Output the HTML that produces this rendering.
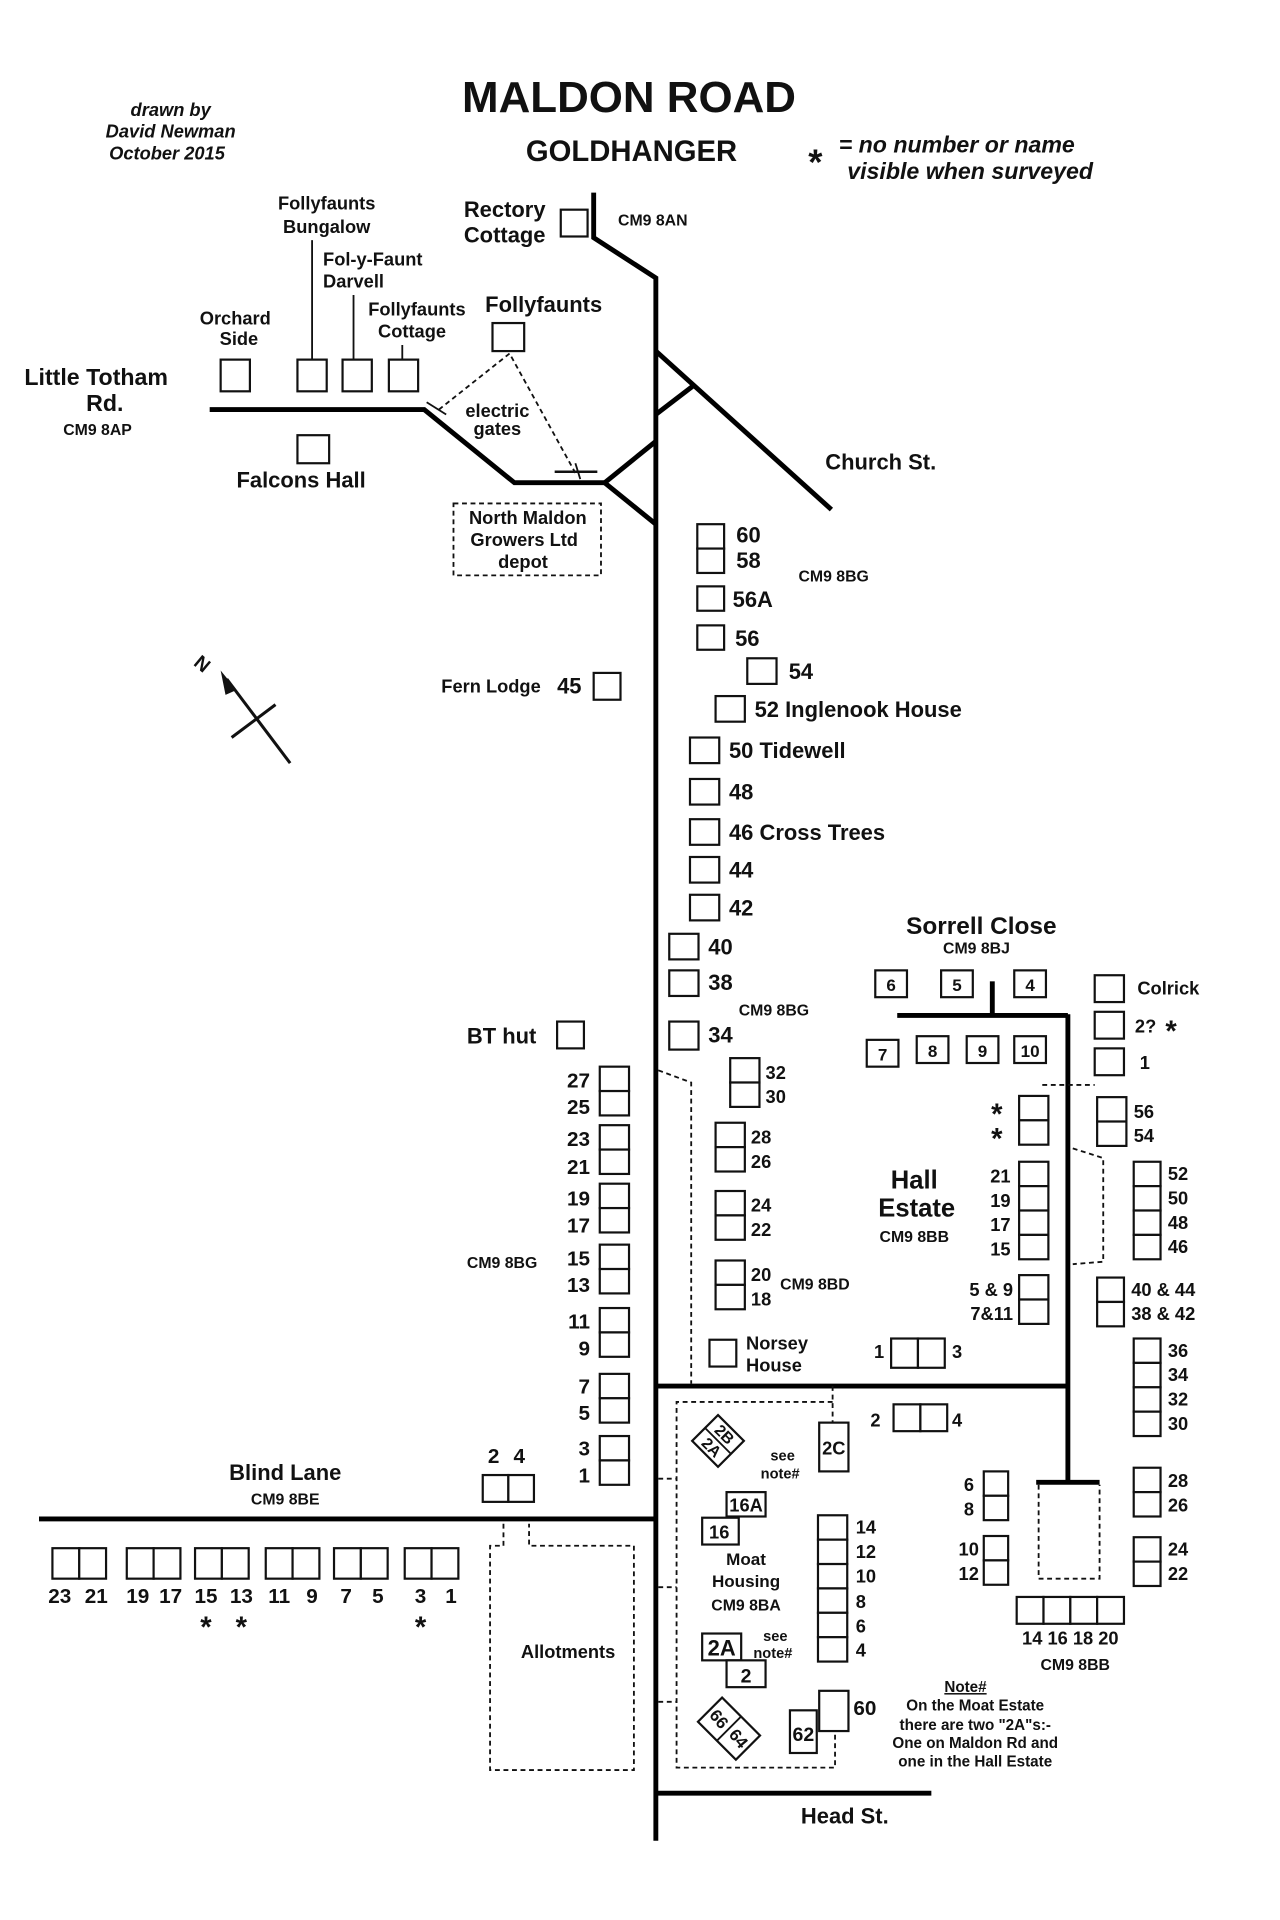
<!DOCTYPE html>
<html><head><meta charset="utf-8"><style>
html,body{margin:0;padding:0;background:#fff}
svg{display:block}
text{font-family:"Liberation Sans",Arial,sans-serif;font-weight:bold;fill:#111}
.b{fill:#fff;stroke:#111;stroke-width:1.8}
.r{stroke:#000;stroke-width:4;fill:none}
.d{stroke:#111;stroke-width:1.5;fill:none;stroke-dasharray:4,3}
.i{font-style:italic}
</style></head><body>
<svg width="1280" height="1920" viewBox="0 0 1050 1575" xmlns="http://www.w3.org/2000/svg">
<rect width="1050" height="1575" fill="#fff"/>
<!-- titles -->
<text x="516" y="92" font-size="36" text-anchor="middle">MALDON ROAD</text>
<text x="518" y="132" font-size="24" text-anchor="middle">GOLDHANGER</text>
<text x="140" y="95" font-size="15" class="i" text-anchor="middle">drawn by</text>
<text x="140" y="113" font-size="15" class="i" text-anchor="middle">David Newman</text>
<text x="137" y="131" font-size="15" class="i" text-anchor="middle">October 2015</text>
<text x="663" y="143" font-size="30">*</text>
<text x="688" y="125" font-size="19" class="i">= no  number or name</text>
<text x="695" y="147" font-size="19" class="i">visible when surveyed</text>

<!-- roads -->
<polyline class="r" points="487,158 487,195 538,228 538,1510"/>
<polyline class="r" points="172,336 348,336 422,396 496,396"/>
<line class="r" x1="496" y1="396" x2="538" y2="362"/>
<line class="r" x1="496" y1="396" x2="538" y2="430"/>
<line class="r" x1="538" y1="288" x2="682" y2="418"/>
<line class="r" x1="538" y1="340" x2="568" y2="317"/>
<line class="r" x1="32" y1="1246" x2="538" y2="1246"/>
<line class="r" x1="538" y1="1137" x2="876" y2="1137"/>
<line class="r" x1="876" y1="832" x2="876" y2="1216"/>
<line class="r" x1="736" y1="833" x2="876" y2="833"/>
<line class="r" x1="814" y1="805" x2="814" y2="833"/>
<line class="r" x1="850" y1="1216" x2="902" y2="1216"/>
<line class="r" x1="538" y1="1471" x2="764" y2="1471"/>

<!-- top west -->
<text x="414" y="178" font-size="18" text-anchor="middle">Rectory</text>
<text x="414" y="199" font-size="18" text-anchor="middle">Cottage</text>
<rect class="b" x="460" y="172" width="22" height="22"/>
<text x="507" y="185" font-size="13">CM9 8AN</text>
<text x="268" y="172" font-size="15" text-anchor="middle">Follyfaunts</text>
<text x="268" y="191" font-size="15" text-anchor="middle">Bungalow</text>
<line x1="256" y1="197" x2="256" y2="295" stroke="#111" stroke-width="1.5"/>
<text x="265" y="218" font-size="15">Fol-y-Faunt</text>
<text x="265" y="236" font-size="15">Darvell</text>
<line x1="290" y1="242" x2="290" y2="295" stroke="#111" stroke-width="1.5"/>
<text x="342" y="259" font-size="15" text-anchor="middle">Follyfaunts</text>
<text x="338" y="277" font-size="15" text-anchor="middle">Cottage</text>
<line x1="330" y1="283" x2="330" y2="295" stroke="#111" stroke-width="1.5"/>
<text x="193" y="266" font-size="15" text-anchor="middle">Orchard</text>
<text x="196" y="283" font-size="15" text-anchor="middle">Side</text>
<rect class="b" x="181" y="295" width="24" height="26"/>
<rect class="b" x="244" y="295" width="24" height="26"/>
<rect class="b" x="281" y="295" width="24" height="26"/>
<rect class="b" x="319" y="295" width="24" height="26"/>
<text x="446" y="256" font-size="18" text-anchor="middle">Follyfaunts</text>
<rect class="b" x="404" y="265" width="26" height="23"/>
<text x="20" y="316" font-size="19">Little Totham</text>
<text x="86" y="337" font-size="19" text-anchor="middle">Rd.</text>
<text x="80" y="357" font-size="13" text-anchor="middle">CM9 8AP</text>
<rect class="b" x="244" y="357" width="26" height="23"/>
<text x="247" y="400" font-size="18" text-anchor="middle">Falcons Hall</text>
<polyline class="d" points="360,336 418,290 472,388"/>
<line x1="350" y1="330" x2="366" y2="340" stroke="#111" stroke-width="1.5"/>
<line x1="455" y1="387" x2="490" y2="387" stroke="#111" stroke-width="2"/>
<line x1="472" y1="380" x2="476" y2="393" stroke="#111" stroke-width="1.5"/>
<text x="408" y="342" font-size="15" text-anchor="middle">electric</text>
<text x="408" y="357" font-size="15" text-anchor="middle">gates</text>
<rect class="d" x="372" y="413" width="121" height="59"/>
<text x="433" y="430" font-size="15" text-anchor="middle">North Maldon</text>
<text x="430" y="448" font-size="15" text-anchor="middle">Growers Ltd</text>
<text x="429" y="466" font-size="15" text-anchor="middle">depot</text>
<text x="677" y="385" font-size="18">Church St.</text>

<!-- N arrow -->
<line x1="186" y1="557" x2="238" y2="626" stroke="#111" stroke-width="2.5"/>
<line x1="190" y1="605" x2="226" y2="578" stroke="#111" stroke-width="2.5"/>
<polygon points="181,550 194,566 185,570" fill="#111"/>
<text x="0" y="0" font-size="16" transform="translate(158,545) rotate(40)">N</text>

<!-- east of road -->
<rect class="b" x="572" y="430" width="22" height="20"/><rect class="b" x="572" y="450" width="22" height="20"/>
<text x="604" y="445" font-size="18">60</text><text x="604" y="466" font-size="18">58</text>
<text x="655" y="477" font-size="13">CM9 8BG</text>
<rect class="b" x="572" y="481" width="22" height="20"/><text x="601" y="498" font-size="18">56A</text>
<rect class="b" x="572" y="513" width="22" height="20"/><text x="603" y="530" font-size="18">56</text>
<rect class="b" x="613" y="540" width="24" height="21"/><text x="647" y="557" font-size="18">54</text>
<rect class="b" x="587" y="571" width="24" height="21"/><text x="619" y="588" font-size="18">52  Inglenook House</text>
<rect class="b" x="566" y="605" width="24" height="21"/><text x="598" y="622" font-size="18">50 Tidewell</text>
<rect class="b" x="566" y="639" width="24" height="21"/><text x="598" y="656" font-size="18">48</text>
<rect class="b" x="566" y="672" width="24" height="21"/><text x="598" y="689" font-size="18">46 Cross Trees</text>
<rect class="b" x="566" y="703" width="24" height="21"/><text x="598" y="720" font-size="18">44</text>
<rect class="b" x="566" y="734" width="24" height="21"/><text x="598" y="751" font-size="18">42</text>
<rect class="b" x="549" y="766" width="24" height="21"/><text x="581" y="783" font-size="18">40</text>
<rect class="b" x="549" y="796" width="24" height="21"/><text x="581" y="812" font-size="18">38</text>
<text x="606" y="833" font-size="13">CM9 8BG</text>
<rect class="b" x="549" y="838" width="24" height="23"/><text x="581" y="855" font-size="18">34</text>

<!-- west column -->
<text x="362" y="568" font-size="15">Fern Lodge</text><text x="457" y="569" font-size="18">45</text>
<rect class="b" x="487" y="552" width="22" height="22"/>
<text x="383" y="856" font-size="18">BT hut</text>
<rect class="b" x="457" y="838" width="22" height="22"/>
<g font-size="17">
<rect class="b" x="492" y="875" width="24" height="20"/><rect class="b" x="492" y="895" width="24" height="20"/>
<text x="484" y="892" text-anchor="end">27</text><text x="484" y="914" text-anchor="end">25</text>
<rect class="b" x="492" y="923" width="24" height="20"/><rect class="b" x="492" y="943" width="24" height="20"/>
<text x="484" y="940" text-anchor="end">23</text><text x="484" y="963" text-anchor="end">21</text>
<rect class="b" x="492" y="971" width="24" height="20"/><rect class="b" x="492" y="991" width="24" height="20"/>
<text x="484" y="989" text-anchor="end">19</text><text x="484" y="1011" text-anchor="end">17</text>
<rect class="b" x="492" y="1021" width="24" height="20"/><rect class="b" x="492" y="1041" width="24" height="20"/>
<text x="484" y="1038" text-anchor="end">15</text><text x="484" y="1060" text-anchor="end">13</text>
<rect class="b" x="492" y="1073" width="24" height="20"/><rect class="b" x="492" y="1093" width="24" height="20"/>
<text x="484" y="1090" text-anchor="end">11</text><text x="484" y="1112" text-anchor="end">9</text>
<rect class="b" x="492" y="1127" width="24" height="20"/><rect class="b" x="492" y="1147" width="24" height="20"/>
<text x="484" y="1143" text-anchor="end">7</text><text x="484" y="1165" text-anchor="end">5</text>
<rect class="b" x="492" y="1178" width="24" height="20"/><rect class="b" x="492" y="1198" width="24" height="20"/>
<text x="484" y="1194" text-anchor="end">3</text><text x="484" y="1216" text-anchor="end">1</text>
</g>
<text x="383" y="1040" font-size="13">CM9 8BG</text>
<text x="405" y="1200" font-size="17" text-anchor="middle">2</text><text x="426" y="1200" font-size="17" text-anchor="middle">4</text>
<rect class="b" x="396" y="1210" width="21" height="22"/><rect class="b" x="417" y="1210" width="21" height="22"/>
<text x="234" y="1214" font-size="18" text-anchor="middle">Blind Lane</text>
<text x="234" y="1234" font-size="13" text-anchor="middle">CM9 8BE</text>

<!-- bottom row -->
<g>
<rect class="b" x="43" y="1270" width="22" height="25"/><rect class="b" x="65" y="1270" width="22" height="25"/>
<rect class="b" x="104" y="1270" width="22" height="25"/><rect class="b" x="126" y="1270" width="22" height="25"/>
<rect class="b" x="160" y="1270" width="22" height="25"/><rect class="b" x="182" y="1270" width="22" height="25"/>
<rect class="b" x="218" y="1270" width="22" height="25"/><rect class="b" x="240" y="1270" width="22" height="25"/>
<rect class="b" x="274" y="1270" width="22" height="25"/><rect class="b" x="296" y="1270" width="22" height="25"/>
<rect class="b" x="332" y="1270" width="22" height="25"/><rect class="b" x="354" y="1270" width="22" height="25"/>
</g>
<g font-size="17" text-anchor="middle">
<text x="49" y="1315">23</text><text x="79" y="1315">21</text>
<text x="113" y="1315">19</text><text x="140" y="1315">17</text>
<text x="169" y="1315">15</text><text x="198" y="1315">13</text>
<text x="229" y="1315">11</text><text x="256" y="1315">9</text>
<text x="284" y="1315">7</text><text x="310" y="1315">5</text>
<text x="345" y="1315">3</text><text x="370" y="1315">1</text>
<text x="169" y="1343" font-size="24">*</text><text x="198" y="1343" font-size="24">*</text><text x="345" y="1343" font-size="24">*</text>
</g>
<polyline class="d" points="413,1250 413,1268 402,1268 402,1452 520,1452 520,1268 434,1268 434,1250"/>
<text x="466" y="1360" font-size="15" text-anchor="middle">Allotments</text>

<!-- estate middle -->
<polyline class="d" points="540,878 567,888 567,1135"/>
<g font-size="15">
<rect class="b" x="599" y="868" width="24" height="20"/><rect class="b" x="599" y="888" width="24" height="20"/>
<text x="628" y="885">32</text><text x="628" y="905">30</text>
<rect class="b" x="587" y="921" width="24" height="20"/><rect class="b" x="587" y="941" width="24" height="20"/>
<text x="616" y="938">28</text><text x="616" y="958">26</text>
<rect class="b" x="587" y="977" width="24" height="20"/><rect class="b" x="587" y="997" width="24" height="20"/>
<text x="616" y="994">24</text><text x="616" y="1014">22</text>
<rect class="b" x="587" y="1034" width="24" height="20"/><rect class="b" x="587" y="1054" width="24" height="20"/>
<text x="616" y="1051">20</text><text x="616" y="1071">18</text>
<text x="612" y="1107">Norsey</text><text x="612" y="1125">House</text>
</g>
<text x="640" y="1058" font-size="13">CM9 8BD</text>
<rect class="b" x="582" y="1099" width="22" height="22"/>

<text x="805" y="766" font-size="20" text-anchor="middle">Sorrell Close</text>
<text x="801" y="782" font-size="13" text-anchor="middle">CM9 8BJ</text>
<g font-size="14" text-anchor="middle">
<rect class="b" x="718" y="796" width="26" height="22"/><text x="731" y="813">6</text>
<rect class="b" x="772" y="796" width="26" height="22"/><text x="785" y="813">5</text>
<rect class="b" x="832" y="796" width="26" height="22"/><text x="845" y="813">4</text>
<rect class="b" x="711" y="853" width="26" height="22"/><text x="724" y="870">7</text>
<rect class="b" x="752" y="850" width="26" height="22"/><text x="765" y="867">8</text>
<rect class="b" x="793" y="850" width="26" height="22"/><text x="806" y="867">9</text>
<rect class="b" x="832" y="850" width="26" height="22"/><text x="845" y="867">10</text>
</g>
<g font-size="15">
<rect class="b" x="898" y="800" width="24" height="22"/><text x="933" y="816">Colrick</text>
<rect class="b" x="898" y="830" width="24" height="22"/><text x="931" y="847">2?</text><text x="956" y="854" font-size="24">*</text>
<rect class="b" x="898" y="860" width="24" height="22"/><text x="935" y="877">1</text>
</g>
<line class="d" x1="855" y1="890" x2="898" y2="890"/>
<rect class="b" x="836" y="899" width="24" height="20"/><rect class="b" x="836" y="919" width="24" height="20"/>
<text x="813" y="922" font-size="24">*</text><text x="813" y="942" font-size="24">*</text>
<g font-size="15">
<rect class="b" x="900" y="900" width="24" height="20"/><rect class="b" x="900" y="920" width="24" height="20"/>
<text x="930" y="917">56</text><text x="930" y="937">54</text>
</g>
<text x="750" y="975" font-size="21" text-anchor="middle">Hall</text>
<text x="752" y="998" font-size="21" text-anchor="middle">Estate</text>
<text x="750" y="1019" font-size="13" text-anchor="middle">CM9 8BB</text>
<g font-size="15">
<rect class="b" x="836" y="953" width="24" height="20"/><rect class="b" x="836" y="973" width="24" height="20"/>
<rect class="b" x="836" y="993" width="24" height="20"/><rect class="b" x="836" y="1013" width="24" height="20"/>
<text x="829" y="970" text-anchor="end">21</text><text x="829" y="990" text-anchor="end">19</text>
<text x="829" y="1010" text-anchor="end">17</text><text x="829" y="1030" text-anchor="end">15</text>
<rect class="b" x="836" y="1046" width="24" height="20"/><rect class="b" x="836" y="1066" width="24" height="20"/>
<text x="831" y="1063" text-anchor="end">5 &amp; 9</text><text x="831" y="1083" text-anchor="end">7&amp;11</text>
<polyline class="d" points="880,942 905,950 905,1035 880,1037"/>
<rect class="b" x="930" y="953" width="22" height="20"/><rect class="b" x="930" y="973" width="22" height="20"/>
<rect class="b" x="930" y="993" width="22" height="20"/><rect class="b" x="930" y="1013" width="22" height="20"/>
<text x="958" y="968">52</text><text x="958" y="988">50</text><text x="958" y="1008">48</text><text x="958" y="1028">46</text>
<rect class="b" x="900" y="1048" width="22" height="20"/><rect class="b" x="900" y="1068" width="22" height="20"/>
<text x="928" y="1063">40 &amp; 44</text><text x="928" y="1083">38 &amp; 42</text>
<rect class="b" x="930" y="1098" width="22" height="20"/><rect class="b" x="930" y="1118" width="22" height="20"/>
<rect class="b" x="930" y="1138" width="22" height="20"/><rect class="b" x="930" y="1158" width="22" height="20"/>
<text x="958" y="1113">36</text><text x="958" y="1133">34</text><text x="958" y="1153">32</text><text x="958" y="1173">30</text>
<rect class="b" x="731" y="1098" width="22" height="24"/><rect class="b" x="753" y="1098" width="22" height="24"/>
<text x="717" y="1114">1</text><text x="781" y="1114">3</text>
<rect class="b" x="733" y="1152" width="22" height="22"/><rect class="b" x="755" y="1152" width="22" height="22"/>
<text x="714" y="1170">2</text><text x="781" y="1170">4</text>
</g>

<!-- Moat -->
<line class="d" x1="683" y1="1137" x2="683" y2="1167"/>
<rect class="b" x="672" y="1167" width="24" height="40"/>
<text x="684" y="1193" font-size="15" text-anchor="middle">2C</text>
<polyline class="d" points="683,1150 555,1150 555,1450 685,1450 685,1410"/>
<line class="d" x1="540" y1="1213" x2="555" y2="1213"/>
<line class="d" x1="540" y1="1302" x2="555" y2="1302"/>
<line class="d" x1="540" y1="1396" x2="555" y2="1396"/>
<g transform="translate(589,1182) rotate(45)">
<rect class="b" x="-15" y="-15" width="30" height="30"/>
<line x1="-15" y1="0" x2="15" y2="0" stroke="#111" stroke-width="1.5"/>
<text x="0" y="-3" font-size="13" text-anchor="middle">2B</text>
<text x="0" y="12" font-size="13" text-anchor="middle">2A</text>
</g>
<text x="632" y="1198" font-size="12">see</text><text x="624" y="1213" font-size="12">note#</text>
<rect class="b" x="596" y="1224" width="32" height="20"/><text x="612" y="1240" font-size="15" text-anchor="middle">16A</text>
<rect class="b" x="576" y="1245" width="30" height="22"/><text x="590" y="1262" font-size="15" text-anchor="middle">16</text>
<text x="612" y="1284" font-size="14" text-anchor="middle">Moat</text>
<text x="612" y="1302" font-size="14" text-anchor="middle">Housing</text>
<text x="612" y="1321" font-size="13" text-anchor="middle">CM9 8BA</text>
<g font-size="15">
<rect class="b" x="671" y="1243" width="24" height="20"/><rect class="b" x="671" y="1263" width="24" height="20"/>
<rect class="b" x="671" y="1283" width="24" height="20"/><rect class="b" x="671" y="1303" width="24" height="20"/>
<rect class="b" x="671" y="1323" width="24" height="20"/><rect class="b" x="671" y="1343" width="24" height="20"/>
<text x="702" y="1258">14</text><text x="702" y="1278">12</text><text x="702" y="1298">10</text>
<text x="702" y="1319">8</text><text x="702" y="1339">6</text><text x="702" y="1359">4</text>
</g>
<rect class="b" x="576" y="1340" width="32" height="22"/><text x="592" y="1358" font-size="18" text-anchor="middle">2A</text>
<text x="626" y="1346" font-size="12">see</text><text x="618" y="1360" font-size="12">note#</text>
<rect class="b" x="596" y="1362" width="32" height="22"/><text x="612" y="1380" font-size="16" text-anchor="middle">2</text>
<g transform="translate(598,1418) rotate(-45)">
<rect class="b" x="-14" y="-22" width="28" height="44"/>
<line x1="-14" y1="0" x2="14" y2="0" stroke="#111" stroke-width="1.5"/>
</g>
<text font-size="14" transform="translate(590,1410) rotate(50)" text-anchor="middle" dy="5">66</text>
<text font-size="14" transform="translate(606,1426) rotate(50)" text-anchor="middle" dy="5">64</text>
<rect class="b" x="648" y="1403" width="22" height="35"/><text x="659" y="1428" font-size="16" text-anchor="middle">62</text>
<rect class="b" x="672" y="1387" width="24" height="33"/><text x="700" y="1407" font-size="17">60</text>
<g font-size="12.5" text-anchor="middle">
<text x="792" y="1388" text-decoration="underline">Note#</text>
<text x="800" y="1403">On the Moat Estate</text>
<text x="800" y="1419">there are two "2A"s:-</text>
<text x="800" y="1434">One on Maldon Rd and</text>
<text x="800" y="1449">one in the Hall Estate</text>
</g>

<!-- south hall estate -->
<polyline class="d" points="852,1218 852,1295 902,1295 902,1218"/>
<g font-size="15">
<rect class="b" x="807" y="1207" width="20" height="20"/><rect class="b" x="807" y="1227" width="20" height="20"/>
<text x="799" y="1223" text-anchor="end">6</text><text x="799" y="1243" text-anchor="end">8</text>
<rect class="b" x="807" y="1260" width="20" height="20"/><rect class="b" x="807" y="1280" width="20" height="20"/>
<text x="803" y="1276" text-anchor="end">10</text><text x="803" y="1296" text-anchor="end">12</text>
<rect class="b" x="930" y="1204" width="22" height="20"/><rect class="b" x="930" y="1224" width="22" height="20"/>
<text x="958" y="1220">28</text><text x="958" y="1240">26</text>
<rect class="b" x="930" y="1261" width="22" height="20"/><rect class="b" x="930" y="1281" width="22" height="20"/>
<text x="958" y="1276">24</text><text x="958" y="1296">22</text>
<rect class="b" x="834" y="1310" width="22" height="22"/><rect class="b" x="856" y="1310" width="22" height="22"/>
<rect class="b" x="878" y="1310" width="22" height="22"/><rect class="b" x="900" y="1310" width="22" height="22"/>
<text x="878" y="1349" text-anchor="middle">14 16 18 20</text>
</g>
<text x="882" y="1370" font-size="13" text-anchor="middle">CM9 8BB</text>
<text x="693" y="1496" font-size="18" text-anchor="middle">Head St.</text>
</svg>
</body></html>
